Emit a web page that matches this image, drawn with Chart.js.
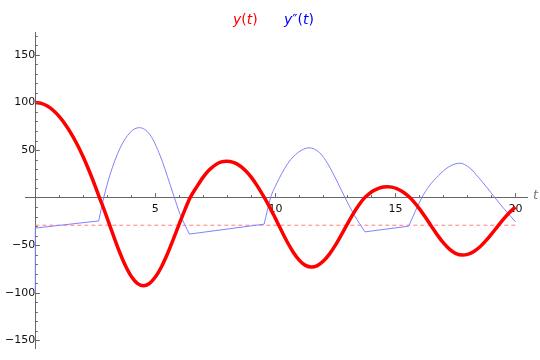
<!DOCTYPE html>
<html>
<head>
<meta charset="utf-8">
<script src="https://cdn.jsdelivr.net/npm/chart.js@4.4.1/dist/chart.umd.min.js"></script>
<style>
  body { margin: 0; background: #fff; }
  #wrap { position: relative; width: 540px; height: 360px; }
  .key { position: absolute; top: 11px; font: 14px 'DejaVu Sans', sans-serif; white-space: nowrap; }
</style>
</head>
<body>
<div id="wrap">
  <canvas id="chart" width="540" height="360"></canvas>
  <span class="key" style="left:233px;color:#ff0000"><i>y</i>(<i>t</i>)</span>
  <span class="key" style="left:284px;color:#0000ff"><i>y</i>″(<i>t</i>)</span>
</div>
<script>
// y(t)
const redT = [0, 0.25, 0.5, 0.75, 1, 1.25, 1.5, 1.75, 2, 2.25, 2.5, 2.67,
  2.75, 3, 3.25, 3.5, 3.75, 4, 4.25, 4.5, 4.75, 5, 5.25, 5.5, 5.75, 6, 6.25, 6.45,
  6.75, 7, 7.25, 7.5, 7.75, 7.97, 8.25, 8.5, 8.75, 9, 9.25, 9.54,
  9.75, 10, 10.25, 10.5, 10.75, 11, 11.25, 11.5, 11.75, 12, 12.25, 12.5, 12.75, 13, 13.25, 13.5, 13.72,
  13.9, 14.1, 14.3, 14.5, 14.66, 14.85, 15.05, 15.25, 15.45, 15.6,
  15.75, 16, 16.25, 16.5, 16.75, 17, 17.25, 17.5, 17.8, 18, 18.25, 18.5, 18.75, 19, 19.25, 19.5, 19.75, 20];
const redY = [100, 99, 96.2, 91.5, 85.1, 76.9, 67, 55.5, 42.4, 27.7, 11.6, 0,
  -5.1, -22.1, -39.7, -56.6, -71.3, -82.8, -90, -92.5, -90.2, -83.5, -72.9, -59.3, -43.6, -27.3, -11.5, 0,
  12.3, 21.8, 29.2, 34.4, 37.5, 38.3, 37, 33.8, 28.6, 21.3, 12.1, 0,
  -9.4, -21.8, -34.6, -46.9, -57.6, -65.9, -71.2, -73, -71.4, -66.7, -59.4, -49.9, -39, -27.6, -16.6, -6.9, 0,
  4, 7.4, 9.8, 11.2, 11.5, 11, 9.5, 7, 3.4, 0,
  -4, -11.8, -20.7, -30.2, -39.4, -47.6, -54.1, -58.5, -60.4, -59.7, -56.8, -52.1, -45.7, -38.3, -30.4, -22.6, -15.6, -10];

// y''(t): a jump at t = 0, then straight pieces and arcs meeting at kinks
const blueJumpT = [0, 0];
const blueJumpY = [-100, -32];
const blueT = [0, 2.64,
  2.85, 3.11, 3.53, 3.95, 4.33, 4.78, 5.2, 5.61, 5.78, 6.03, 6.42,
  9.53,
  9.8, 10.0, 10.52, 10.95, 11.4, 11.85, 12.18, 12.6, 12.9, 13.3, 13.5, 13.73,
  15.55,
  16.1, 16.4, 16.8, 17.2, 17.68, 18.1, 18.45, 18.8, 19.14, 19.5, 20];
const blueY = [-32, -24.5,
  0, 24, 52, 68.5, 73.5, 66, 44, 14, 1, -17.5, -38.3,
  -27.9,
  0, 12, 36, 47.5, 52.3, 47, 35.6, 15.5, 0, -19, -27, -36,
  -30,
  0, 12, 23.3, 32, 36.2, 31, 21.5, 11, 0, -11, -25.5];
const blueKinkT = [2.64, 6.42, 9.53, 13.73, 15.55];

// dashed reference level
const dashT = [0, 20];
const dashY = [-29, -29];

const xTickValues = [5, 10, 15, 20];
const yTickValues = [-150, -100, -50, 50, 100, 150];

const pts = (xs, ys) => xs.map((x, i) => ({ x: x, y: ys[i] }));
const fmt = v => (v < 0 ? '\u2212' + Math.abs(v) : String(v));

// cut the y'' series at its kinks so each piece is smoothed on its own
function splitAtKinks(points, kinks) {
  const pieces = [[]];
  points.forEach(p => {
    pieces[pieces.length - 1].push(p);
    if (kinks.includes(p.x)) pieces.push([p]);
  });
  return pieces.filter(piece => piece.length > 1);
}

const blueStyle = { borderColor: '#8080ff', borderWidth: 1, pointRadius: 0, cubicInterpolationMode: 'monotone' };
const blueSets = splitAtKinks(pts(blueT, blueY), blueKinkT).map(piece => Object.assign({ data: piece }, blueStyle));

// minor/major tick marks drawn inward + axis label "t"
const axisMarks = {
  id: 'axisMarks',
  afterDraw(chart) {
    const { ctx, scales: { x, y } } = chart;
    const x0 = x.getPixelForValue(0);
    const y0 = y.getPixelForValue(0);
    ctx.save();
    ctx.strokeStyle = '#666';
    ctx.lineWidth = 1;
    ctx.beginPath();
    for (let v = -150; v <= 170; v += 10) {
      if (v === 0) continue;
      const py = Math.round(y.getPixelForValue(v)) + 0.5;
      const len = v % 50 === 0 ? 4.5 : 2.5;
      ctx.moveTo(x0, py);
      ctx.lineTo(x0 + len, py);
    }
    for (let v = 1; v <= 20; v++) {
      const px = Math.round(x.getPixelForValue(v)) + 0.5;
      const len = v % 5 === 0 ? 4.5 : 2.5;
      ctx.moveTo(px, y0);
      ctx.lineTo(px, y0 - len);
    }
    ctx.stroke();
    ctx.fillStyle = '#777';
    ctx.font = 'italic 13px "DejaVu Sans"';
    ctx.textBaseline = 'middle';
    ctx.fillText('t', x.right + 6, y0 - 2);
    ctx.restore();
  }
};

new Chart(document.getElementById('chart'), {
  type: 'line',
  data: {
    datasets: [
      {
        data: pts(redT, redY),
        borderColor: '#ff0000',
        borderWidth: 3.5,
        pointRadius: 0,
        cubicInterpolationMode: 'monotone'
      },
      ...blueSets,
      Object.assign({ data: pts(blueJumpT, blueJumpY) }, blueStyle, { cubicInterpolationMode: 'default' }),
      {
        data: pts(dashT, dashY),
        borderColor: '#ff8080',
        borderWidth: 1,
        borderDash: [4, 3],
        pointRadius: 0
      }
    ]
  },
  options: {
    responsive: false,
    animation: false,
    devicePixelRatio: 1,
    layout: { padding: { left: 25, right: 13, top: 32, bottom: 12 } },
    plugins: { legend: { display: false }, tooltip: { enabled: false } },
    scales: {
      x: {
        type: 'linear',
        position: { y: 0 },
        min: -0.43,
        max: 20.48,
        afterBuildTicks: s => { s.ticks = xTickValues.map(v => ({ value: v })); },
        grid: { display: false, drawTicks: false },
        border: { display: true, color: '#666' },
        ticks: { color: '#111', padding: 5, maxRotation: 0, font: { family: 'DejaVu Sans', size: 11 }, callback: fmt }
      },
      y: {
        type: 'linear',
        position: { x: 0 },
        min: -158,
        max: 174,
        afterBuildTicks: s => { s.ticks = yTickValues.map(v => ({ value: v })); },
        grid: { display: false, drawTicks: false },
        border: { display: true, color: '#666' },
        ticks: { color: '#111', padding: 4, font: { family: 'DejaVu Sans', size: 11 }, callback: fmt }
      }
    }
  },
  plugins: [axisMarks]
});
</script>
</body>
</html>
